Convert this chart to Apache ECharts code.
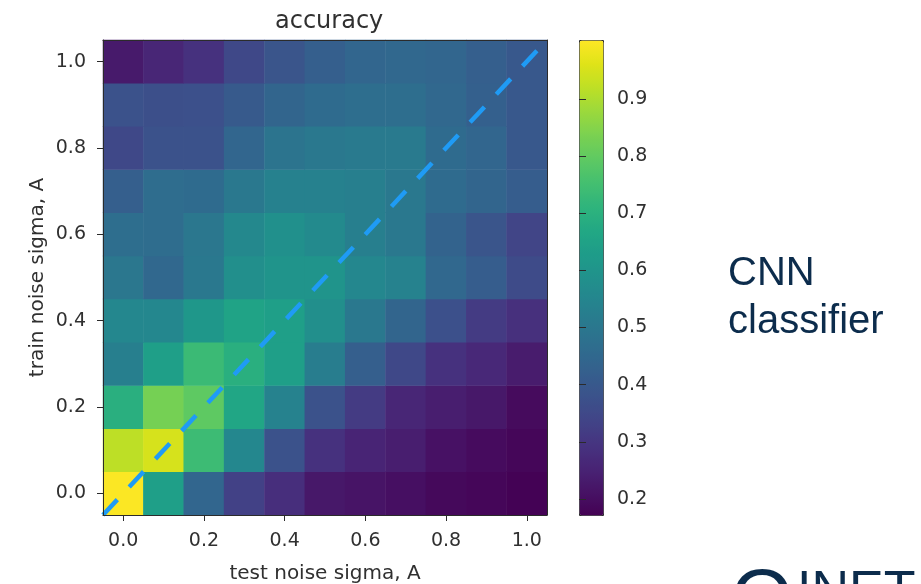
<!DOCTYPE html>
<html>
<head>
<meta charset="utf-8">
<script src="https://cdn.jsdelivr.net/npm/echarts@6/dist/echarts.min.js"></script>
<style>
  html, body { margin: 0; padding: 0; background: #ffffff; }
  #chart { width: 921px; height: 584px; }
</style>
</head>
<body>
<div id="chart"></div>
<script>
// Noise levels on both axes (amplitude sigma, A)
const testSigma  = ['0.0', '0.1', '0.2', '0.3', '0.4', '0.5', '0.6', '0.7', '0.8', '0.9', '1.0'];
const trainSigma = ['0.0', '0.1', '0.2', '0.3', '0.4', '0.5', '0.6', '0.7', '0.8', '0.9', '1.0'];

// Classifier accuracy: one row per training noise level,
// one value per test noise level (0.0 ... 1.0)
const accTrain00 = [1.00, 0.64, 0.445, 0.33, 0.28, 0.225, 0.215, 0.205, 0.19, 0.183, 0.175];
const accTrain01 = [0.92, 0.95, 0.74, 0.555, 0.38, 0.29, 0.255, 0.24, 0.21, 0.196, 0.183];
const accTrain02 = [0.695, 0.83, 0.795, 0.665, 0.54, 0.38, 0.315, 0.26, 0.24, 0.225, 0.195];
const accTrain03 = [0.53, 0.64, 0.735, 0.695, 0.64, 0.52, 0.42, 0.35, 0.29, 0.265, 0.235];
const accTrain04 = [0.555, 0.555, 0.61, 0.655, 0.64, 0.58, 0.505, 0.44, 0.375, 0.315, 0.285];
const accTrain05 = [0.50, 0.45, 0.505, 0.58, 0.60, 0.60, 0.555, 0.54, 0.45, 0.415, 0.36];
const accTrain06 = [0.47, 0.465, 0.50, 0.56, 0.585, 0.565, 0.53, 0.505, 0.435, 0.39, 0.34];
const accTrain07 = [0.42, 0.465, 0.46, 0.505, 0.535, 0.535, 0.53, 0.505, 0.46, 0.44, 0.415];
const accTrain08 = [0.35, 0.38, 0.38, 0.445, 0.49, 0.505, 0.51, 0.51, 0.46, 0.445, 0.40];
const accTrain09 = [0.38, 0.37, 0.375, 0.405, 0.44, 0.46, 0.47, 0.47, 0.45, 0.425, 0.40];
const accTrain10 = [0.23, 0.26, 0.29, 0.35, 0.39, 0.42, 0.445, 0.45, 0.445, 0.42, 0.40];

const accuracyRows = [accTrain00, accTrain01, accTrain02, accTrain03, accTrain04, accTrain05,
                      accTrain06, accTrain07, accTrain08, accTrain09, accTrain10];

// Colour bar range and its labelled ticks
const colorMin = 0.172;
const colorMax = 1.003;
const colorbarTicks = [0.2, 0.3, 0.4, 0.5, 0.6, 0.7, 0.8, 0.9];

// Reference line train sigma == test sigma, across the full cell extent
const diagonal = [[-0.05, -0.05], [1.05, 1.05]];

const viridis = ['#440154', '#471365', '#482475', '#463480', '#414487', '#3b528b', '#355f8d',
                 '#2f6c8e', '#2a788e', '#25848e', '#21918c', '#1e9c89', '#22a884', '#2fb47c',
                 '#44bf70', '#5ec962', '#7ad151', '#9bd93c', '#bddf26', '#dfe318', '#fde725'];

const cells = [];
accuracyRows.forEach((row, yi) => {
  row.forEach((v, xi) => cells.push([xi, yi, v]));
});

const FONT = 'DejaVu Sans';
const INK = '#303030';
const FRAME = '#2b2b2b';
const NAVY = '#0c2c4c';

const chart = echarts.init(document.getElementById('chart'), null, { renderer: 'canvas' });

chart.setOption({
  backgroundColor: '#ffffff',
  animation: false,
  title: {
    text: 'accuracy',
    left: 270,
    top: 5,
    textStyle: { fontFamily: FONT, fontSize: 24, fontWeight: 'normal', color: INK }
  },
  grid: [
    { left: 103, top: 40, width: 444, height: 475, containLabel: false, outerBoundsMode: 'none' },
    { left: 579, top: 40, width: 24, height: 475, containLabel: false, outerBoundsMode: 'none' }
  ],
  xAxis: [
    {
      type: 'category', gridIndex: 0, data: testSigma, position: 'bottom', z: 10,
      name: 'test noise sigma, A', nameLocation: 'middle', nameGap: 49,
      nameTextStyle: { fontFamily: FONT, fontSize: 20, color: INK },
      axisLine: { show: true, onZero: false, lineStyle: { color: FRAME, width: 1 } },
      axisTick: { show: true, alignWithLabel: true, interval: 1, length: 6, lineStyle: { color: FRAME } },
      axisLabel: { interval: 1, margin: 17, fontFamily: FONT, fontSize: 19, color: INK },
      splitLine: { show: false }
    },
    {
      type: 'value', gridIndex: 0, position: 'top', min: -0.05, max: 1.05, z: 10,
      axisLine: { show: true, onZero: false, lineStyle: { color: FRAME, width: 1 } },
      axisTick: { show: false }, axisLabel: { show: false }, splitLine: { show: false }
    },
    {
      type: 'value', gridIndex: 1, min: 0, max: 1, show: false
    }
  ],
  yAxis: [
    {
      type: 'category', gridIndex: 0, data: trainSigma, position: 'left', z: 10,
      name: 'train noise sigma, A', nameLocation: 'middle', nameGap: 55, nameRotate: 90,
      nameTextStyle: { fontFamily: FONT, fontSize: 20, color: INK },
      axisLine: { show: true, onZero: false, lineStyle: { color: FRAME, width: 1 } },
      axisTick: { show: true, alignWithLabel: true, interval: 1, length: 6, lineStyle: { color: FRAME } },
      axisLabel: { interval: 1, margin: 17, fontFamily: FONT, fontSize: 19, color: INK },
      splitLine: { show: false }
    },
    {
      type: 'value', gridIndex: 0, position: 'right', min: -0.05, max: 1.05, z: 10,
      axisLine: { show: true, onZero: false, lineStyle: { color: FRAME, width: 1 } },
      axisTick: { show: false }, axisLabel: { show: false }, splitLine: { show: false }
    },
    {
      type: 'value', gridIndex: 1, position: 'right', min: colorMin, max: colorMax, z: 10,
      axisLine: { show: false },
      axisTick: { show: true, length: 7, customValues: colorbarTicks, lineStyle: { color: FRAME } },
      axisLabel: {
        margin: 14, fontFamily: FONT, fontSize: 19, color: INK,
        customValues: colorbarTicks,
        formatter: v => v.toFixed(1)
      },
      splitLine: { show: false }
    }
  ],
  visualMap: {
    type: 'continuous',
    seriesIndex: 0,
    min: colorMin,
    max: colorMax,
    calculable: false,
    hoverLink: false,
    orient: 'vertical',
    left: 579,
    top: 40,
    itemWidth: 24,
    itemHeight: 475,
    padding: 0,
    borderColor: FRAME,
    borderWidth: 1,
    text: null,
    inRange: { color: viridis }
  },
  series: [
    {
      type: 'heatmap',
      xAxisIndex: 0,
      yAxisIndex: 0,
      data: cells,
      label: { show: false },
      emphasis: { disabled: true },
      itemStyle: { borderWidth: 0 }
    },
    {
      type: 'line',
      xAxisIndex: 1,
      yAxisIndex: 1,
      data: diagonal,
      symbol: 'none',
      silent: true,
      z: 5,
      lineStyle: { color: '#1f9bf5', width: 4.5, type: [21, 17.4], cap: 'butt' }
    }
  ],
  graphic: [
    {
      type: 'text', left: 728, top: 254,
      style: { text: 'CNN', fontFamily: 'Liberation Sans', fontSize: 40, fill: NAVY }
    },
    {
      type: 'text', left: 728, top: 302,
      style: { text: 'classifier', fontFamily: 'Liberation Sans', fontSize: 40, fill: NAVY }
    },
    {
      type: 'text', left: 731, top: 563,
      style: { text: 'Q', fontFamily: 'Liberation Sans', fontSize: 80, fill: NAVY }
    },
    {
      type: 'text', left: 797, top: 567,
      style: { text: 'INET', fontFamily: 'Liberation Sans', fontSize: 52, fill: NAVY }
    }
  ]
});
</script>
</body>
</html>
